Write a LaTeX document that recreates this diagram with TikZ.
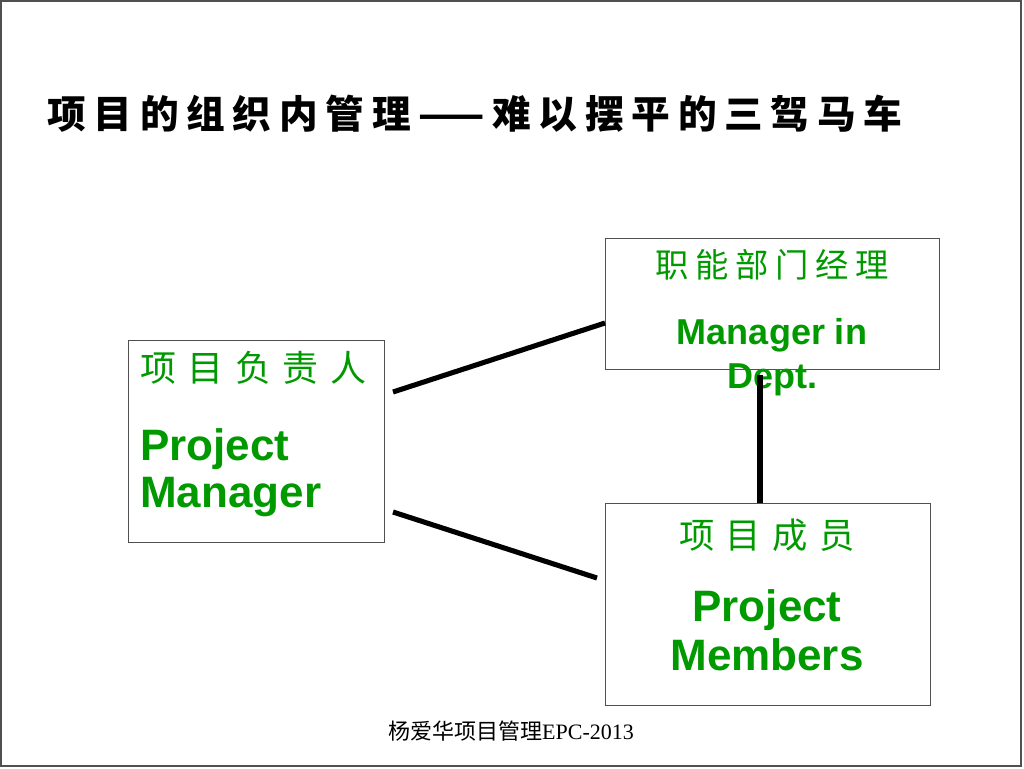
\documentclass[tikz,border=0pt]{standalone}
\usepackage{fontspec}
\usepackage{xcolor}
\usepackage{tikz}
\usetikzlibrary{positioning}
\setmainfont{Liberation Serif}
\newfontfamily\cjk{Noto Sans CJK SC}
\newfontfamily\cjkwide[LetterSpace=20]{Noto Sans CJK SC}
\newfontfamily\cjkwider[LetterSpace=32]{Noto Sans CJK SC}
\newfontfamily\arial{Liberation Sans}
\definecolor{green}{RGB}{0, 153, 0}
\definecolor{frame}{RGB}{80, 80, 80}
\tikzstyle{box} = [rectangle, draw=frame, line width=0.8pt, fill=none, inner sep=0pt]
\tikzstyle{cntext} = [draw=none, fill=none, text=green, inner sep=0pt, font=\cjkwider\fontsize{26}{30}\selectfont]
\tikzstyle{entext} = [draw=none, fill=none, text=green, inner sep=0pt, font=\arial\bfseries\fontsize{33}{35}\selectfont]
\tikzstyle{link}  = [draw, line width=3.8pt, line cap=butt]

\begin{document}
\begin{tikzpicture}[x=0.75pt, y=-0.75pt]

% page ======================================
\useasboundingbox (0,0) rectangle (1024,768);
\draw[frame, line width=1.2pt] (1,1) rectangle (1021,766);

% title
\node[anchor=base west, inner sep=0pt, font=\cjkwide\bfseries\fontsize{29}{32}\selectfont] (title) at (47,128) {项目的组织内管理——难以摆平的三驾马车};

% boxes =====================================
\node[box, minimum width=192pt, minimum height=151.5pt, anchor=north west] (pm) at (128,340) {};
\node[box, minimum width=250.5pt, minimum height=98.25pt, anchor=north west] (dept) at (605,238) {};
\node[box, minimum width=243.75pt, minimum height=151.5pt, anchor=north west] (mem) at (605,503) {};

% labels
\node[cntext, anchor=west, font=\cjkwider\fontsize{27}{30}\selectfont] (pmcn) at (140,368) {项目负责人};
\node[entext, anchor=base west, align=left] (pmen) at (140,507) {Project\\Manager};

\node[cntext, anchor=center, font=\cjkwide\fontsize{25}{30}\selectfont] (deptcn) at (772,265) {职能部门经理};
\node[entext, anchor=base, align=center, font=\arial\bfseries\fontsize{27}{33}\selectfont] (depten) at (772,388) {Manager in\\Dept.};

\node[cntext, anchor=center, font=\cjkwider\fontsize{26.5}{30}\selectfont] (memcn) at (767,535) {项目成员};
\node[entext, anchor=base, align=center, font=\arial\bfseries\fontsize{33}{36.5}\selectfont] (memen) at (767,670) {Project\\Members};

% footer
\node[anchor=base, inner sep=0pt, font=\fontsize{16.5}{18}\selectfont] (foot) at (511,739) {{\cjk 杨爱华项目管理}EPC-2013};

% edges =====================================
\coordinate (pmup) at (393,392);
\coordinate (pmdown) at (393,512);
\coordinate (deptin) at (605,323);
\coordinate (memin) at (597,578);
\coordinate (deptdown) at (760,375);

\path[link] (pmup) -- (deptin);
\path[link] (pmdown) -- (memin);
\path[link] (deptdown) -- (deptdown |- mem.north);

\end{tikzpicture}
\end{document}
